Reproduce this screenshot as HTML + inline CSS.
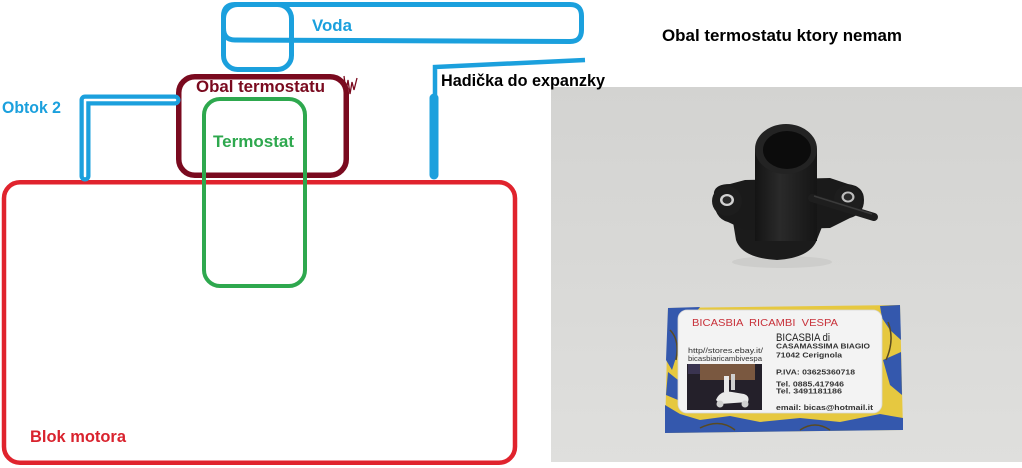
<!DOCTYPE html>
<html>
<head>
<meta charset="utf-8">
<style>
html,body{margin:0;padding:0;background:#ffffff;}
body{width:1022px;height:468px;overflow:hidden;}
svg{display:block;}
text{font-family:"Liberation Sans", Arial, sans-serif;}
</style>
</head>
<body>
<svg width="1022" height="468" viewBox="0 0 1022 468" xmlns="http://www.w3.org/2000/svg">
  <defs>
    <linearGradient id="bg" x1="0" y1="0" x2="0" y2="1">
      <stop offset="0" stop-color="#d3d3d1"/>
      <stop offset="0.5" stop-color="#d9d9d7"/>
      <stop offset="1" stop-color="#dfdfdd"/>
    </linearGradient>
    <linearGradient id="cyl" x1="0" y1="0" x2="1" y2="0">
      <stop offset="0" stop-color="#141414"/>
      <stop offset="0.4" stop-color="#2a2a2a"/>
      <stop offset="1" stop-color="#151515"/>
    </linearGradient>
  </defs>

  <!-- ===== Diagram ===== -->
  <rect x="4" y="182.25" width="511" height="280.5" rx="16" fill="none" stroke="#e0232d" stroke-width="4.5"/>

  <rect x="178.75" y="76.75" width="167.5" height="98.5" rx="16" fill="none" stroke="#7a0a1f" stroke-width="5.5"/>
  <path d="M344,76 L346,92 L348,80 L350,94 L352,82 L354,90 L357,78" fill="none" stroke="#7a0a1f" stroke-width="1.3"/>

  <rect x="204" y="99" width="101" height="187" rx="16" fill="none" stroke="#2ea84e" stroke-width="4"/>

  <path d="M235,4.5 L570,4.5 Q581.5,4.5 581.5,16 L581.5,30 Q581.5,41.5 570,41.5 L235,40 Q223.5,40 223.5,28 L223.5,16 Q223.5,4.5 235,4.5 Z" fill="none" stroke="#1ba0dd" stroke-width="5"/>
  <rect x="223.5" y="4.5" width="68" height="65" rx="14" fill="none" stroke="#1ba0dd" stroke-width="5"/>

  <polyline points="435,98 435,67 585,60" fill="none" stroke="#1ba0dd" stroke-width="4.5"/>
  <line x1="434" y1="98" x2="434" y2="175" stroke="#1ba0dd" stroke-width="9" stroke-linecap="round"/>

  <path d="M85,176 L85,100 L175,100" fill="none" stroke="#1ba0dd" stroke-width="11" stroke-linecap="round" stroke-linejoin="round"/>
  <path d="M85,176 L85,100 L175,100" fill="none" stroke="#ffffff" stroke-width="2.5" stroke-linecap="round" stroke-linejoin="round"/>

  <text x="312" y="31" font-size="17" font-weight="bold" fill="#1ba0dd" textLength="40" lengthAdjust="spacingAndGlyphs">Voda</text>
  <text x="196" y="92" font-size="17" font-weight="bold" fill="#7a0a1f" textLength="129" lengthAdjust="spacingAndGlyphs">Obal termostatu</text>
  <text x="213" y="147" font-size="17" font-weight="bold" fill="#2ea84e" textLength="81" lengthAdjust="spacingAndGlyphs">Termostat</text>
  <text x="2" y="113" font-size="17" font-weight="bold" fill="#1ba0dd" textLength="59" lengthAdjust="spacingAndGlyphs">Obtok 2</text>
  <text x="30" y="442" font-size="17" font-weight="bold" fill="#d9232e" textLength="96" lengthAdjust="spacingAndGlyphs">Blok motora</text>
  <text x="662" y="41" font-size="17" font-weight="bold" fill="#000000" textLength="240" lengthAdjust="spacingAndGlyphs">Obal termostatu ktory nemam</text>

  <!-- ===== Photo ===== -->
  <rect x="551" y="87" width="471" height="375" fill="url(#bg)"/>
  <text x="441" y="86" font-size="17" font-weight="bold" fill="#000000" textLength="164" lengthAdjust="spacingAndGlyphs">Hadička do expanzky</text>

  <!-- thermostat housing -->
  <ellipse cx="782" cy="262" rx="50" ry="6" fill="#cdcdcb"/>
  <path d="M733,222 L736,240 Q742,258 777,260 Q808,258 816,242 L824,222 Z" fill="#1b1b1b"/>
  <path d="M714,192 Q716,184 730,184 L745,180 L830,178 L848,184 Q864,186 864,200 Q864,214 850,218 L830,228 L745,230 L728,222 Q712,218 714,192 Z" fill="#1a1a1a"/>
  <circle cx="727" cy="201" r="15" fill="#1d1d1d"/>
  <circle cx="848" cy="199" r="14" fill="#1d1d1d"/>
  <ellipse cx="727" cy="200" rx="7" ry="6" fill="#d2d2d2"/>
  <ellipse cx="727" cy="200" rx="4.5" ry="3.8" fill="#2a2a2a"/>
  <ellipse cx="848" cy="197" rx="6.5" ry="5.5" fill="#bdbdbd"/>
  <ellipse cx="848" cy="197" rx="4.3" ry="3.6" fill="#2a2a2a"/>
  <!-- cylinder -->
  <rect x="755" y="149" width="62" height="92" fill="url(#cyl)"/>
  <ellipse cx="786" cy="149" rx="31" ry="25" fill="#232323"/>
  <ellipse cx="787" cy="150" rx="24" ry="19" fill="#0c0c0c"/>
  <!-- nozzle -->
  <line x1="812" y1="198" x2="874" y2="217" stroke="#1e1e1e" stroke-width="8" stroke-linecap="round"/>
  <line x1="814" y1="196" x2="872" y2="214" stroke="#3a3a3a" stroke-width="1.5"/>

  <!-- business card -->
  <polygon points="668,308 900,305 903,430 665,433" fill="#e6c840"/>
  <path d="M668,308 L700,307 L690,320 L680,345 L672,370 L666,360 Z" fill="#3458ad"/>
  <path d="M665,405 L680,414 L700,420 L730,416 L760,422 L800,418 L840,422 L880,414 L903,418 L903,430 L665,433 Z" fill="#3458ad"/>
  <path d="M880,306 L900,305 L901,340 L890,330 L882,318 Z" fill="#3458ad"/>
  <path d="M883,360 L901,352 L902,395 L890,385 Z" fill="#3458ad"/>
  <path d="M668,372 L678,380 L678,400 L666,395 Z" fill="#3458ad"/>
  <path d="M670,330 Q680,340 676,360 M888,322 Q895,340 886,360 M700,428 Q720,418 735,430 M800,430 Q815,420 830,430" fill="none" stroke="#5a4a20" stroke-width="1.5"/>
  <rect x="678" y="310" width="204" height="103" rx="9" fill="#f3f3f3" stroke="#d8d8d8" stroke-width="0.8"/>
  <rect x="687" y="364" width="75" height="46" fill="#24202a"/>
  <rect x="700" y="364" width="55" height="16" fill="#7a5840"/>
  <rect x="688" y="364" width="12" height="10" fill="#3a3450"/>
  <path d="M716,400 Q720,390 732,392 L744,394 Q750,396 748,402 L720,404 Z" fill="#eaeaea"/>
  <circle cx="720" cy="404" r="3.5" fill="#d0d0d0"/>
  <circle cx="745" cy="404" r="3.5" fill="#d0d0d0"/>
  <rect x="724" y="376" width="5" height="16" fill="#e8e8e8"/>
  <rect x="731" y="374" width="4" height="16" fill="#cfcfcf"/>

  <text x="692" y="326" font-size="10" fill="#c8313a" textLength="146" lengthAdjust="spacingAndGlyphs" xml:space="preserve">BICASBIA  RICAMBI  VESPA</text>
  <text x="776" y="341" font-size="11" fill="#222" textLength="54" lengthAdjust="spacingAndGlyphs">BICASBIA di</text>
  <text x="776" y="348.5" font-size="7.5" font-weight="bold" fill="#333" textLength="94" lengthAdjust="spacingAndGlyphs">CASAMASSIMA BIAGIO</text>
  <text x="776" y="357.5" font-size="7.5" font-weight="bold" fill="#333" textLength="66" lengthAdjust="spacingAndGlyphs">71042 Cerignola</text>
  <text x="688" y="353" font-size="7.5" fill="#333" textLength="75" lengthAdjust="spacingAndGlyphs">http//stores.ebay.it/</text>
  <text x="688" y="361" font-size="7.5" fill="#333" textLength="74" lengthAdjust="spacingAndGlyphs">bicasbiaricambivespa</text>
  <text x="776" y="374.5" font-size="7.5" font-weight="bold" fill="#333" textLength="79" lengthAdjust="spacingAndGlyphs">P.IVA: 03625360718</text>
  <text x="776" y="386.5" font-size="7.5" font-weight="bold" fill="#333" textLength="68" lengthAdjust="spacingAndGlyphs">Tel. 0885.417946</text>
  <text x="776" y="393.5" font-size="7.5" font-weight="bold" fill="#333" textLength="66" lengthAdjust="spacingAndGlyphs">Tel. 3491181186</text>
  <text x="776" y="410" font-size="7.5" font-weight="bold" fill="#333" textLength="97" lengthAdjust="spacingAndGlyphs">email: bicas@hotmail.it</text>
</svg>
</body>
</html>
